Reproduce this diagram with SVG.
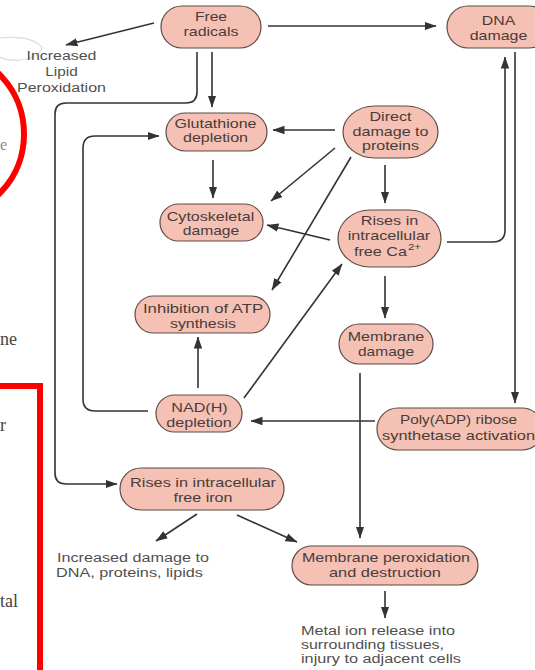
<svg xmlns="http://www.w3.org/2000/svg" width="535" height="670" viewBox="0 0 535 670">
<style>
.node rect{fill:#f5c1b4;stroke:#5e4b47;stroke-width:1.2}
.node text{font-family:"Liberation Sans",Arial,sans-serif;font-size:13px;fill:#4a3c3a;text-anchor:middle}
.lbl{font-family:"Liberation Sans",Arial,sans-serif;font-size:12.5px;fill:#505050}
.ser{font-family:"Liberation Serif","Times New Roman",serif;font-size:18px;fill:#444}
#connectors path{fill:none;stroke:#333;stroke-width:1.6;marker-end:url(#ah)}
</style>
<defs>
<marker id="ah" markerUnits="userSpaceOnUse" markerWidth="12" markerHeight="10" viewBox="0 0 12 10" refX="11.5" refY="5" orient="auto">
<path d="M0,0.8 L12,5 L0,9.2 z" fill="#333"/>
</marker>
</defs>
<rect width="535" height="670" fill="#fff"/>
<g id="background-fragments">
<path d="M0,38 Q30,35 42,47 Q40,58 20,60 Q6,61 0,57" fill="none" stroke="#dcdcdc" stroke-width="1.2"/>
<text x="0" y="150" class="ser" style="font-size:16px;fill:#888">e</text>
<ellipse cx="-50" cy="134" rx="74" ry="80" fill="none" stroke="#ff0000" stroke-width="6"/>
<text x="0" y="345" class="ser">ne</text>
<text x="0" y="431" class="ser">r</text>
<text x="0" y="607" class="ser">tal</text>
<path d="M-5,386 H40 V675" fill="none" stroke="#ff0000" stroke-width="6"/>
</g>
<g id="connectors">
<path d="M154,23 L66,45"/>
<path d="M268,26 L436,26"/>
<path d="M212,52 L212,107"/>
<path d="M197,52 V92 Q197,103 186,103 H66 Q55,103 55,114 V473 Q55,484 66,484 H117"/>
<path d="M148,411 H95 Q83,411 83,399 V148 Q83,136 95,136 H159"/>
<path d="M335,130 L273,130"/>
<path d="M213,160 L213,198"/>
<path d="M335,148 L271,201"/>
<path d="M351,157 L272,290"/>
<path d="M385,165 L385,203"/>
<path d="M330,240 L267,225"/>
<path d="M244,398 L342,264"/>
<path d="M198,388 L198,337"/>
<path d="M447,242 H493 Q505,242 505,230 V57"/>
<path d="M515,52 V403"/>
<path d="M375,421 L251,421"/>
<path d="M360,373 L360,538"/>
<path d="M385,276 L385,318"/>
<path d="M197,514 L156,541"/>
<path d="M237,515 L297,542"/>
<path d="M385,591 L385,618"/>
</g>
<g id="free-radicals" class="node">
<rect x="161" y="6" width="100" height="42" rx="21"/>
<text x="211" y="21" textLength="32" lengthAdjust="spacingAndGlyphs">Free</text>
<text x="211" y="36" textLength="55" lengthAdjust="spacingAndGlyphs">radicals</text>
</g>
<g id="dna-damage" class="node">
<rect x="447" y="6" width="103" height="42" rx="21"/>
<text x="498.5" y="25" textLength="33.5" lengthAdjust="spacingAndGlyphs">DNA</text>
<text x="498.5" y="40" textLength="57.5" lengthAdjust="spacingAndGlyphs">damage</text>
</g>
<g id="glutathione-depletion" class="node">
<rect x="166" y="113" width="101" height="38" rx="19"/>
<text x="215.5" y="127.5" textLength="82" lengthAdjust="spacingAndGlyphs">Glutathione</text>
<text x="215.5" y="142" textLength="65" lengthAdjust="spacingAndGlyphs">depletion</text>
</g>
<g id="direct-damage" class="node">
<rect x="343" y="106" width="95" height="52" rx="32" ry="26"/>
<text x="390.5" y="120.5" textLength="42" lengthAdjust="spacingAndGlyphs">Direct</text>
<text x="390.5" y="135.5" textLength="76" lengthAdjust="spacingAndGlyphs">damage to</text>
<text x="390.5" y="150" textLength="57" lengthAdjust="spacingAndGlyphs">proteins</text>
</g>
<g id="cytoskeletal-damage" class="node">
<rect x="160" y="204" width="103" height="37" rx="18.5"/>
<text x="210.5" y="220.5" textLength="87.5" lengthAdjust="spacingAndGlyphs">Cytoskeletal</text>
<text x="211" y="235" textLength="56.5" lengthAdjust="spacingAndGlyphs">damage</text>
</g>
<g id="calcium-rise" class="node">
<rect x="338" y="210" width="103" height="57" rx="32" ry="28.5"/>
<text x="389.5" y="225" textLength="57.5" lengthAdjust="spacingAndGlyphs">Rises in</text>
<text x="389" y="240" textLength="82.5" lengthAdjust="spacingAndGlyphs">intracellular</text>
<text x="354" y="256" textLength="53" lengthAdjust="spacingAndGlyphs" style="text-anchor:start">free Ca</text>
<text x="408" y="250" textLength="13" lengthAdjust="spacingAndGlyphs" style="text-anchor:start;font-size:9px">2+</text>
</g>
<g id="atp-inhibition" class="node">
<rect x="135" y="296" width="135" height="37" rx="18.5"/>
<text x="203" y="313" textLength="120" lengthAdjust="spacingAndGlyphs">Inhibition of ATP</text>
<text x="203" y="327.5" textLength="66" lengthAdjust="spacingAndGlyphs">synthesis</text>
</g>
<g id="membrane-damage" class="node">
<rect x="339" y="324" width="94" height="40" rx="20"/>
<text x="386" y="341" textLength="76.5" lengthAdjust="spacingAndGlyphs">Membrane</text>
<text x="386" y="355.5" textLength="56" lengthAdjust="spacingAndGlyphs">damage</text>
</g>
<g id="nadh-depletion" class="node">
<rect x="156" y="395" width="86" height="37" rx="18.5"/>
<text x="199.5" y="412" textLength="56.5" lengthAdjust="spacingAndGlyphs">NAD(H)</text>
<text x="199" y="427" textLength="65.5" lengthAdjust="spacingAndGlyphs">depletion</text>
</g>
<g id="parp-activation" class="node">
<rect x="377" y="408" width="166" height="42" rx="21"/>
<text x="458.5" y="424" textLength="117" lengthAdjust="spacingAndGlyphs">Poly(ADP) ribose</text>
<text x="458.5" y="439.5" textLength="153" lengthAdjust="spacingAndGlyphs">synthetase activation</text>
</g>
<g id="iron-rise" class="node">
<rect x="120" y="468" width="164" height="42" rx="21"/>
<text x="203" y="486.5" textLength="146" lengthAdjust="spacingAndGlyphs">Rises in intracellular</text>
<text x="203" y="502" textLength="59" lengthAdjust="spacingAndGlyphs">free iron</text>
</g>
<g id="membrane-peroxidation" class="node">
<rect x="292" y="546" width="186" height="39" rx="19.5"/>
<text x="386" y="561.5" textLength="168" lengthAdjust="spacingAndGlyphs">Membrane peroxidation</text>
<text x="385" y="577" textLength="112" lengthAdjust="spacingAndGlyphs">and destruction</text>
</g>
<g id="lipid-peroxidation">
<text class="lbl" x="61.5" y="60" text-anchor="middle" textLength="70" lengthAdjust="spacingAndGlyphs">Increased</text>
<text class="lbl" x="61.5" y="76" text-anchor="middle" textLength="32.5" lengthAdjust="spacingAndGlyphs">Lipid</text>
<text class="lbl" x="61.5" y="91.5" text-anchor="middle" textLength="89" lengthAdjust="spacingAndGlyphs">Peroxidation</text>
</g>
<g id="increased-damage">
<text class="lbl" x="57" y="562" textLength="152" lengthAdjust="spacingAndGlyphs">Increased damage to</text>
<text class="lbl" x="56" y="577" textLength="147" lengthAdjust="spacingAndGlyphs">DNA, proteins, lipids</text>
</g>
<g id="metal-release">
<text class="lbl" x="301" y="635" textLength="154" lengthAdjust="spacingAndGlyphs">Metal ion release into</text>
<text class="lbl" x="301" y="648.5" textLength="143" lengthAdjust="spacingAndGlyphs">surrounding tissues,</text>
<text class="lbl" x="301" y="662.5" textLength="160" lengthAdjust="spacingAndGlyphs">injury to adjacent cells</text>
</g>
</svg>
